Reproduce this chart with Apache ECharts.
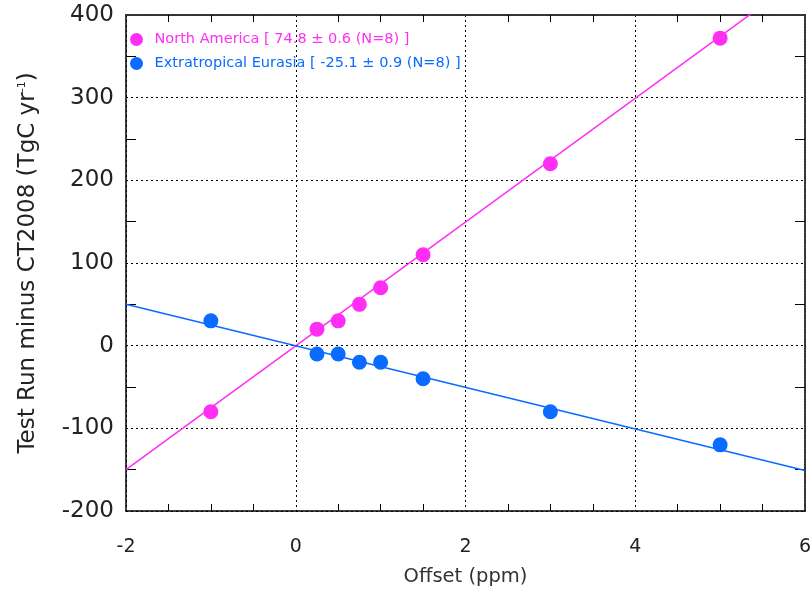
<!DOCTYPE html>
<html>
<head>
<meta charset="utf-8">
<script src="https://cdn.jsdelivr.net/npm/echarts@6/dist/echarts.min.js"></script>
<style>
  html, body { margin: 0; padding: 0; background: #fff; }
  #chart { width: 812px; height: 590px; }
</style>
</head>
<body>
<div id="chart"></div>
<script>
// offsets (ppm) used in the test runs
const offsets = [-1, 0.25, 0.5, 0.75, 1, 1.5, 3, 5]
// flux differences
const northAmerica = [-80, 20, 30, 50, 70, 110, 220, 372]
const eurasia = [30, -10, -10, -20, -20, -40, -80, -120]
// fit lines, two end points each
const fitX = [-2, 6]
const northAmericaFit = [-150, 449]
const eurasiaFit = [50, -151]

const naName = 'North America [ 74.8 ± 0.6 (N=8) ]'
const euName = 'Extratropical Eurasia [ -25.1 ± 0.9 (N=8) ]'
const naColor = '#ff2ef5'
const euColor = '#0a6cff'

const pairs = (xs, ys) => xs.map((x, i) => [x, ys[i]])

const chart = echarts.init(document.getElementById('chart'))

const font = 'DejaVu Sans, sans-serif'
const dotted = { color: '#000', width: 1, type: [2, 3] }

chart.setOption({
  animation: false,
  textStyle: { fontFamily: font },
  grid: { left: 126, right: 7, top: 15, bottom: 79, outerBoundsMode: 'none' },
  legend: {
    orient: 'vertical',
    left: 125,
    top: 27,
    itemGap: 9,
    itemWidth: 26,
    itemHeight: 13,
    icon: 'circle',
    textStyle: { fontSize: 14.5, fontFamily: font },
    data: [
      { name: naName, textStyle: { color: naColor } },
      { name: euName, textStyle: { color: euColor } }
    ]
  },
  xAxis: [
    {
      type: 'value',
      min: -2,
      max: 6,
      interval: 2,
      name: 'Offset (ppm)',
      nameLocation: 'middle',
      nameGap: 56,
      nameTextStyle: { fontSize: 19.5, color: '#333' },
      axisLine: { onZero: false, lineStyle: { color: '#000', width: 1.5 } },
      axisTick: { show: false, inside: true },
      minorTick: { show: true, splitNumber: 4, length: 7, lineStyle: { color: '#000' } },
      axisLabel: { fontSize: 19, color: '#222', margin: 27 },
      splitLine: { show: true, lineStyle: dotted }
    },
    {
      type: 'value',
      position: 'top',
      min: -2,
      max: 6,
      interval: 2,
      axisLine: { show: true, onZero: false, lineStyle: { color: '#333', width: 2, type: [2, 1] } },
      axisTick: { show: false, inside: true },
      minorTick: { show: true, splitNumber: 4, length: 7, lineStyle: { color: '#000' } },
      axisLabel: { show: false },
      splitLine: { show: false }
    }
  ],
  yAxis: [
    {
      type: 'value',
      min: -200,
      max: 400,
      interval: 100,
      name: 'Test Run minus CT2008 (TgC yr{sup|-1})',
      nameLocation: 'middle',
      nameGap: 86,
      nameTextStyle: {
        fontSize: 23,
        color: '#222',
        rich: { sup: { fontSize: 11, verticalAlign: 'top', padding: [0, 0, 12, 0] } }
      },
      axisLine: { show: true, onZero: false, lineStyle: { color: '#000', width: 1.5 } },
      axisTick: { show: false, inside: true },
      minorTick: { show: true, splitNumber: 2, length: 10, lineStyle: { color: '#000' } },
      axisLabel: { fontSize: 23, color: '#222', margin: 12 },
      splitLine: { show: true, lineStyle: dotted }
    },
    {
      type: 'value',
      position: 'right',
      min: -200,
      max: 400,
      interval: 100,
      axisLine: { show: true, onZero: false, lineStyle: { color: '#333', width: 2, type: [2, 1] } },
      axisTick: { show: false, inside: true },
      minorTick: { show: true, splitNumber: 2, length: 10, lineStyle: { color: '#000' } },
      axisLabel: { show: false },
      splitLine: { show: false }
    }
  ],
  series: [
    {
      name: naName,
      type: 'line',
      data: pairs(fitX, northAmericaFit),
      showSymbol: false,
      silent: true,
      lineStyle: { color: naColor, width: 1.5 },
      itemStyle: { color: naColor },
      z: 2
    },
    {
      name: euName,
      type: 'line',
      data: pairs(fitX, eurasiaFit),
      showSymbol: false,
      silent: true,
      lineStyle: { color: euColor, width: 1.5 },
      itemStyle: { color: euColor },
      z: 2
    },
    {
      name: naName,
      type: 'scatter',
      data: pairs(offsets, northAmerica),
      symbolSize: 15,
      itemStyle: { color: naColor, opacity: 1 },
      z: 3
    },
    {
      name: euName,
      type: 'scatter',
      data: pairs(offsets, eurasia),
      symbolSize: 15,
      itemStyle: { color: euColor, opacity: 1 },
      z: 3
    }
  ]
})
</script>
</body>
</html>
